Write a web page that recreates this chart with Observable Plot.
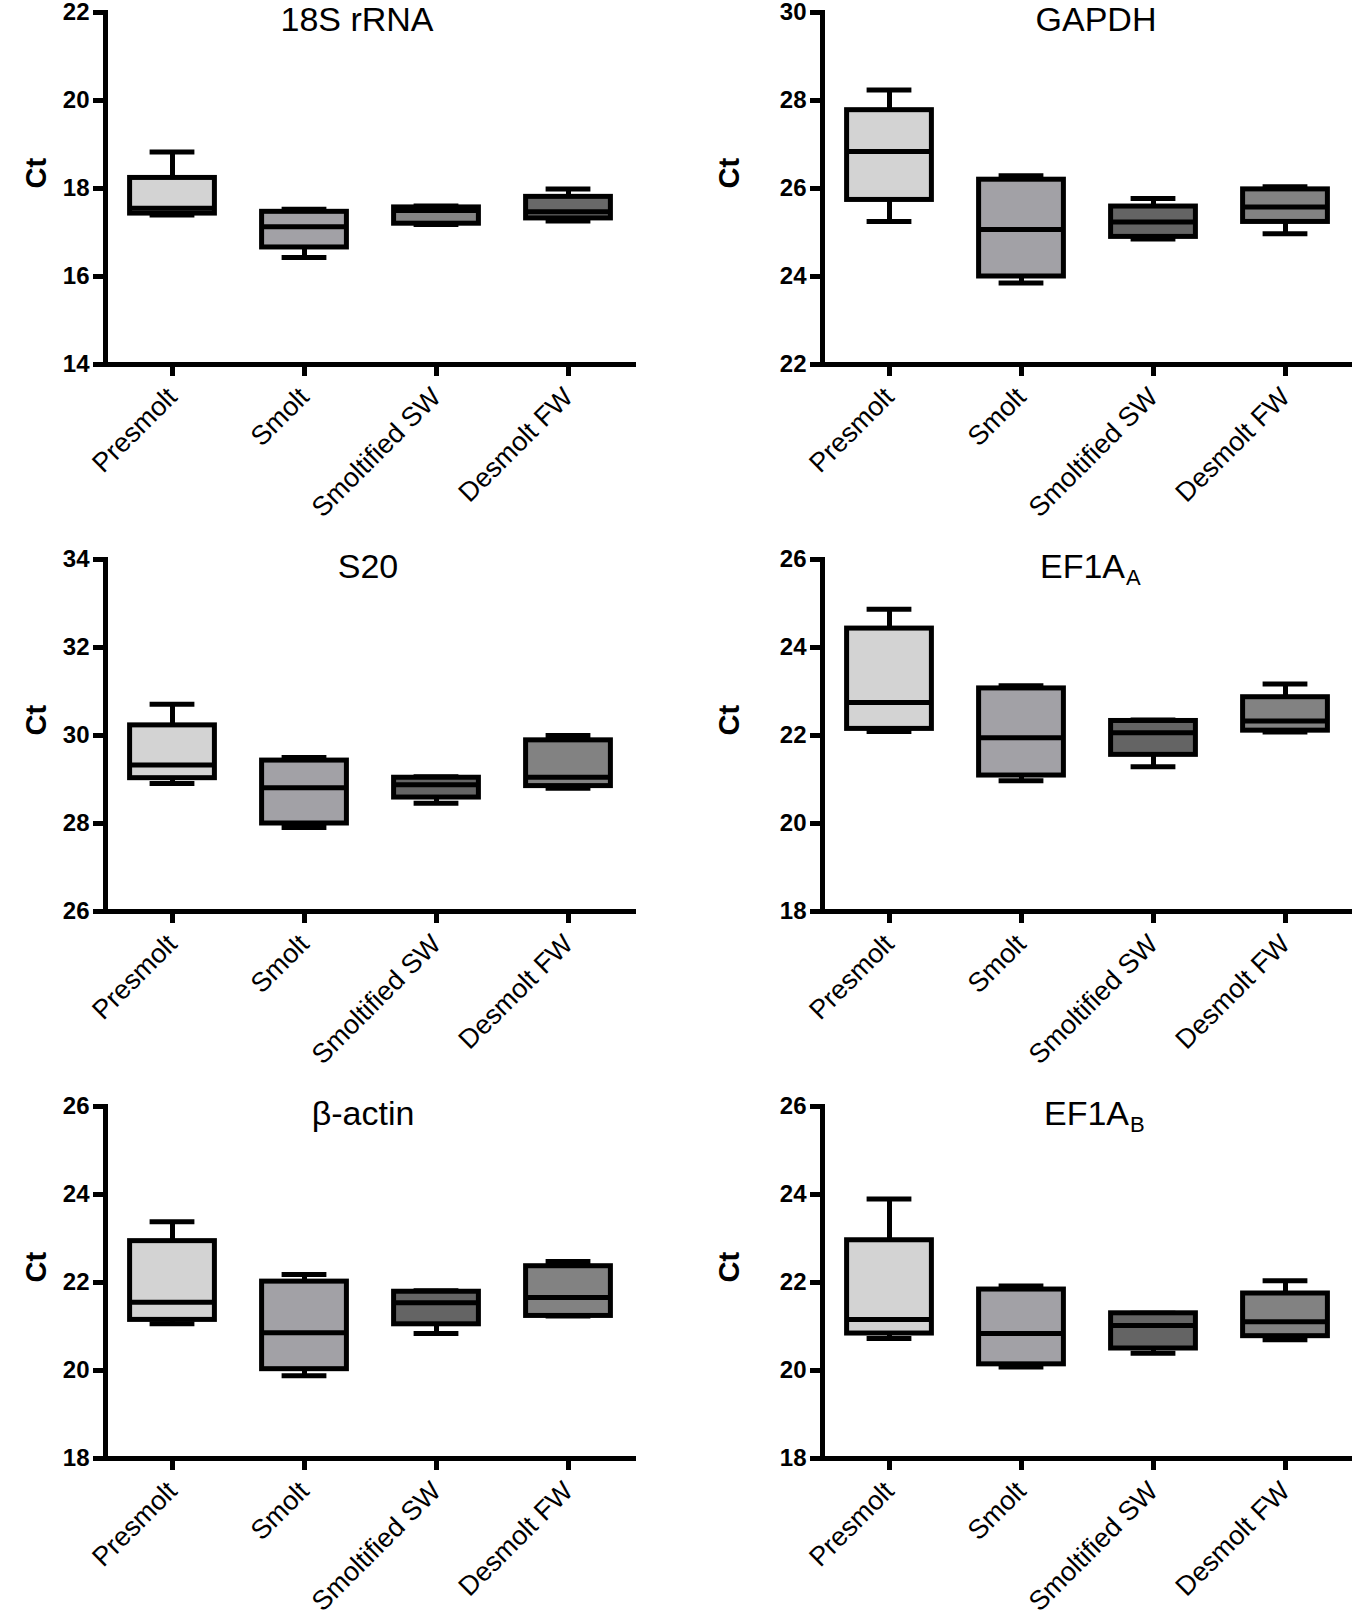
<!DOCTYPE html>
<html><head><meta charset="utf-8">
<script src="https://cdn.jsdelivr.net/npm/d3@7"></script>
<script src="https://cdn.jsdelivr.net/npm/@observablehq/plot@0.6"></script>
<style>
html,body{margin:0;padding:0;background:#fff;overflow:hidden;}
#wrap{position:relative;width:1352px;height:1612px;overflow:hidden;}
#wrap svg{position:absolute;}
</style></head><body><div id="wrap"></div>
<script>
// Categories
const groups = ["Presmolt", "Smolt", "Smoltified SW", "Desmolt FW"];
// Box fills per group
const fills = ["#d3d3d3", "#a2a1a6", "#646464", "#828282"];
const fills18S = ["#d3d3d3", "#a2a1a6", "#858585", "#686868"];
// Panel titles (main text + subscript)
const titles = ["18S rRNA", "GAPDH", "S20", "EF1A", "β-actin", "EF1A"];
const subs = ["", "", "", "A", "", "B"];
// y domains (tick labels every 2 units)
const yDomains = [[14, 22], [22, 30], [26, 34], [18, 26], [18, 26], [18, 26]];
// five-number summaries per group: [min, q1, median, q3, max]
const v18S   = [[17.40, 17.43, 17.55, 18.24, 18.83], [16.43, 16.66, 17.13, 17.47, 17.53], [17.18, 17.20, 17.50, 17.57, 17.60], [17.26, 17.32, 17.47, 17.81, 17.99]];
const vGAPDH = [[25.25, 25.74, 26.84, 27.78, 28.24], [23.85, 24.00, 25.07, 26.20, 26.29], [24.85, 24.90, 25.24, 25.59, 25.77], [24.97, 25.24, 25.58, 25.98, 26.04]];
const vS20   = [[28.91, 29.03, 29.33, 30.23, 30.71], [27.91, 28.00, 28.81, 29.43, 29.50], [28.46, 28.59, 28.88, 29.04, 29.06], [28.80, 28.85, 29.05, 29.89, 30.00]];
const vEF1AA = [[22.09, 22.15, 22.75, 24.43, 24.87], [20.97, 21.09, 21.95, 23.07, 23.13], [21.29, 21.56, 22.06, 22.33, 22.35], [22.08, 22.11, 22.33, 22.87, 23.17]];
const vActin = [[21.06, 21.15, 21.55, 22.94, 23.38], [19.88, 20.03, 20.86, 22.02, 22.18], [20.84, 21.05, 21.54, 21.79, 21.81], [21.24, 21.24, 21.66, 22.37, 22.48]];
const vEF1AB = [[20.73, 20.84, 21.16, 22.96, 23.90], [20.08, 20.14, 20.84, 21.84, 21.92], [20.39, 20.50, 21.02, 21.30, 21.30], [20.70, 20.78, 21.11, 21.75, 22.04]];
const stats = [v18S, vGAPDH, vS20, vEF1AA, vActin, vEF1AB];
const panelFills = [fills18S, fills, fills, fills, fills, fills];

// layout (style only): horizontal title offsets per panel
const titleDx = [-13, 9, -2, 4, -7, 8];

const wrap = document.getElementById("wrap");
const SW = 5;
const FONT = "'Liberation Sans', Arial, Helvetica, sans-serif";

titles.forEach((title, i) => {
  const col = i % 2, row = Math.floor(i / 2);
  const data = groups.map((g, j) => ({
    group: g, min: stats[i][j][0], q1: stats[i][j][1], median: stats[i][j][2],
    q3: stats[i][j][3], max: stats[i][j][4], fill: panelFills[i][j]
  }));
  const dom = yDomains[i];
  const ticks = d3.range(dom[0], dom[1] + 0.5, 2);
  const ml = col ? 146 : 105, mr = col ? 1 : 42;
  const tdx = titleDx[i];
  const titleMarks = subs[i]
    ? [
        Plot.text([title], {text: d => d, frameAnchor: "top", textAnchor: "end", lineAnchor: "bottom", dy: 18, dx: tdx + 34, fontSize: 34}),
        Plot.text([subs[i]], {text: d => d, frameAnchor: "top", textAnchor: "start", lineAnchor: "bottom", dy: 25, dx: tdx + 35, fontSize: 22})
      ]
    : [Plot.text([title], {text: d => d, frameAnchor: "top", lineAnchor: "bottom", dy: 18, dx: tdx, fontSize: 34})];
  const chart = Plot.plot({
    width: 676, height: 547,
    marginLeft: ml, marginRight: mr, marginTop: 12, marginBottom: 183,
    style: {fontFamily: FONT, background: "transparent", overflow: "visible", color: "#000"},
    x: {type: "band", domain: groups, padding: 0, axis: null},
    y: {domain: dom, axis: null},
    color: {type: "identity"},
    marks: [
      Plot.ruleX(data, {x: "group", y1: "min", y2: "q1", stroke: "#000", strokeWidth: SW}),
      Plot.ruleX(data, {x: "group", y1: "q3", y2: "max", stroke: "#000", strokeWidth: SW}),
      Plot.tickY(data, {x: "group", y: "min", stroke: "#000", strokeWidth: SW, insetLeft: 43.6, insetRight: 43.6}),
      Plot.tickY(data, {x: "group", y: "max", stroke: "#000", strokeWidth: SW, insetLeft: 43.6, insetRight: 43.6}),
      Plot.barY(data, {x: "group", y1: "q1", y2: "q3", fill: "fill", stroke: "#000", strokeWidth: SW, insetLeft: 23.6, insetRight: 23.6}),
      Plot.tickY(data, {x: "group", y: "median", stroke: "#000", strokeWidth: SW, insetLeft: 23.6, insetRight: 23.6}),
      Plot.axisY({ticks, tickFormat: d => String(d), tickSize: 12, tickPadding: 4, fontSize: 24, fontWeight: "bold", strokeWidth: SW, label: null}),
      Plot.axisX({tickRotate: -45, tickSize: 12, tickPadding: 16, fontSize: 27, strokeWidth: SW, label: null}),
      Plot.frame({anchor: "left", stroke: "#000", strokeWidth: SW}),
      Plot.ruleY([dom[0]], {stroke: "#000", strokeWidth: SW, insetLeft: -12, insetRight: -2}),
      Plot.text(["Ct"], {text: d => d, frameAnchor: "left", rotate: -90, dx: col ? -93 : -69, fontSize: 29, fontWeight: "bold"}),
      ...titleMarks
    ]
  });
  chart.style.left = (col * 676) + "px";
  chart.style.top = (row * 547) + "px";
  wrap.appendChild(chart);
});
</script>
</body></html>
